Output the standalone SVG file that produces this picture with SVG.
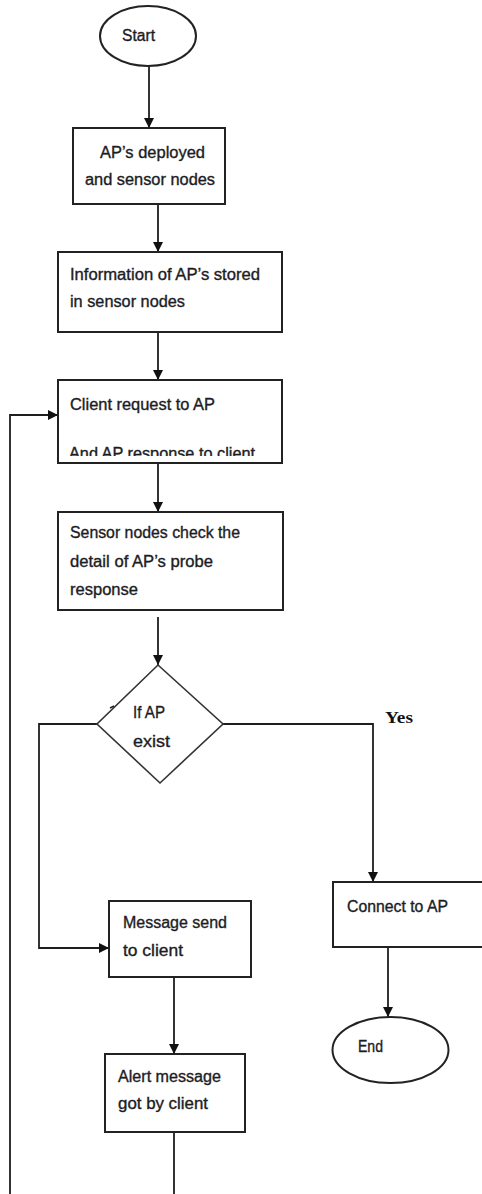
<svg xmlns="http://www.w3.org/2000/svg" width="482" height="1194" viewBox="0 0 482 1194">
<style>
.box{fill:#fff;stroke:#222;stroke-width:2}
.dia{fill:#fff;stroke:#333;stroke-width:1.6}
.t{font-family:"Liberation Sans",Arial,sans-serif;font-size:16px;fill:#1c1c24;stroke:#1c1c24;stroke-width:0.35}
.yes{font-family:"Liberation Serif","Times New Roman",serif;font-size:17px;font-weight:bold;fill:#111}
.c{fill:none;stroke:#1e1e1e;stroke-width:1.8}
</style>
<defs>
<marker id="ah" markerUnits="userSpaceOnUse" markerWidth="10" markerHeight="10" viewBox="0 0 10 10" refX="10" refY="5" orient="auto">
<path d="M0,0 L10,5 L0,10 Z" fill="#111"/>
</marker>
<clipPath id="clip3"><rect x="58" y="380" width="224" height="76"/></clipPath>
</defs>
<rect width="482" height="1194" fill="#fff"/>
<g id="connectors">
<path class="c" d="M149,66 V128" marker-end="url(#ah)"/>
<path class="c" d="M158,204 V252" marker-end="url(#ah)"/>
<path class="c" d="M158,332 V380" marker-end="url(#ah)"/>
<path class="c" d="M10,1194 V415 H58" marker-end="url(#ah)"/>
<path class="c" d="M158,463 V512" marker-end="url(#ah)"/>
<path class="c" d="M158,617 V665" marker-end="url(#ah)"/>
<path class="c" d="M97,724 H39 V948 H109" marker-end="url(#ah)"/>
<path class="c" d="M223,724 H373 V882" marker-end="url(#ah)"/>
<path class="c" d="M388,948 V1017" marker-end="url(#ah)"/>
<path class="c" d="M174,977 V1054" marker-end="url(#ah)"/>
<path class="c" d="M174,1132 V1194"/>
</g>
<g id="start">
<ellipse class="box" cx="148" cy="36" rx="48" ry="30"/>
<text class="t" x="122" y="41" textLength="33" lengthAdjust="spacingAndGlyphs">Start</text>
</g>
<g id="deploy">
<rect class="box" x="73" y="128" width="152" height="76"/>
<text class="t" x="100" y="158" textLength="105" lengthAdjust="spacingAndGlyphs">AP’s deployed</text>
<text class="t" x="85" y="185" textLength="130" lengthAdjust="spacingAndGlyphs">and sensor nodes</text>
</g>
<g id="store">
<rect class="box" x="58" y="252" width="224" height="80"/>
<text class="t" x="70" y="280" textLength="190" lengthAdjust="spacingAndGlyphs">Information of AP’s stored</text>
<text class="t" x="70" y="307" textLength="115" lengthAdjust="spacingAndGlyphs">in sensor nodes</text>
</g>
<g id="request">
<rect class="box" x="58" y="380" width="224" height="83"/>
<text class="t" x="70" y="410" textLength="145" lengthAdjust="spacingAndGlyphs">Client request to AP</text>
<text class="t" x="69" y="459" textLength="186" lengthAdjust="spacingAndGlyphs" clip-path="url(#clip3)">And AP response to client</text>
</g>
<g id="check">
<rect class="box" x="58" y="512" width="225" height="98"/>
<text class="t" x="70" y="538" textLength="170" lengthAdjust="spacingAndGlyphs">Sensor nodes check the</text>
<text class="t" x="70" y="567" textLength="143" lengthAdjust="spacingAndGlyphs">detail of AP’s probe</text>
<text class="t" x="70" y="595" textLength="68" lengthAdjust="spacingAndGlyphs">response</text>
</g>
<g id="decision">
<polygon class="dia" points="158,665 223,724 160,783 97,724"/>
<path d="M110,708 L114,706" stroke="#222" stroke-width="1.5"/>
<text class="t" x="133" y="718" textLength="32" lengthAdjust="spacingAndGlyphs">If AP</text>
<text class="t" x="133" y="747" textLength="37" lengthAdjust="spacingAndGlyphs">exist</text>
<text class="yes" x="385" y="723" textLength="28" lengthAdjust="spacingAndGlyphs">Yes</text>
</g>
<g id="connect">
<rect class="box" x="333" y="882" width="160" height="65"/>
<text class="t" x="347" y="912" textLength="101" lengthAdjust="spacingAndGlyphs">Connect to AP</text>
</g>
<g id="end">
<ellipse class="box" cx="390.5" cy="1050" rx="58" ry="33"/>
<text class="t" x="358" y="1052" textLength="25" lengthAdjust="spacingAndGlyphs">End</text>
</g>
<g id="message">
<rect class="box" x="109" y="901" width="142" height="76"/>
<text class="t" x="123" y="928" textLength="104" lengthAdjust="spacingAndGlyphs">Message send</text>
<text class="t" x="123" y="956" textLength="60" lengthAdjust="spacingAndGlyphs">to client</text>
</g>
<g id="alert">
<rect class="box" x="105" y="1054" width="140" height="78"/>
<text class="t" x="118" y="1082" textLength="103" lengthAdjust="spacingAndGlyphs">Alert message</text>
<text class="t" x="118" y="1109" textLength="90" lengthAdjust="spacingAndGlyphs">got by client</text>
</g>
</svg>
